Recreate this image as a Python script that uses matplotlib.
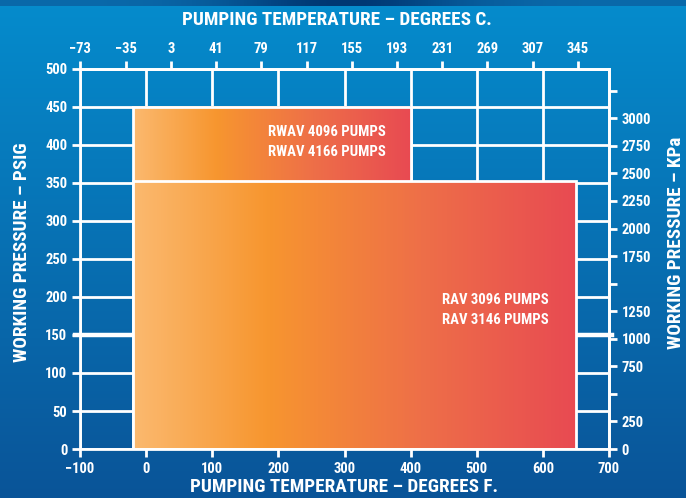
import numpy as np
import matplotlib
matplotlib.use("Agg")
import matplotlib.pyplot as plt
from matplotlib.colors import LinearSegmentedColormap
from matplotlib.patches import Rectangle

plt.rcParams['font.family'] = ['Roboto Condensed', 'DejaVu Sans']
plt.rcParams['font.weight'] = 'bold'

# axis scales
f_ticks = [-100, 0, 100, 200, 300, 400, 500, 600, 700]
psig_ticks = [0, 50, 100, 150, 200, 250, 300, 350, 400, 450, 500]
c_ticks = [-73, -35, 3, 41, 79, 117, 155, 193, 231, 269, 307, 345]
kpa_ticks = [0, 250, 500, 750, 1000, 1250, 1500, 1750, 2000, 2250, 2500, 2750, 3000, 3250]
kpa_labels = ["0", "250", "", "750", "1000", "1250", "", "1750", "2000", "2250",
              "2500", "2750", "3000", ""]

# pump operating envelopes
pump_labels = ["RWAV 4096 PUMPS\nRWAV 4166 PUMPS", "RAV 3096 PUMPS\nRAV 3146 PUMPS"]
temp_min = [-20, -20]
temp_max = [400, 650]
press_max = [450, 352]
label_x = [362, 608]
label_y = [404, 183]

W, H = 686, 498
fig = plt.figure(figsize=(W / 100, H / 100), dpi=100)

# blue background: vertical fade with a thin darker strip on top
bg = fig.add_axes([0, 0, 1, 1], zorder=-5)
ny, nx = 498, 200
rows = np.linspace(0, 1, ny)[:, None]
mid = np.array([5, 140, 205]) / 255
bot = np.array([10, 84, 152]) / 255
img = mid + (bot - mid) * rows[..., None] * np.ones((1, nx, 1))
xs = np.linspace(-1, 1, nx)
strip = np.array([10, 105, 170]) / 255 + (np.array([0, 55, 115]) / 255 - np.array([10, 105, 170]) / 255) * np.exp(-(xs / 0.35) ** 2)[:, None]
img[:7] = strip[None, :, :]
bg.imshow(np.clip(img, 0, 1), aspect='auto', extent=[0, 1, 0, 1])
bg.set_axis_off()

ax = fig.add_axes([80 / W, 1 - 449 / H, 529 / W, 380 / H])
ax.set_facecolor('none')

# grid
for x in f_ticks:
    ax.axvline(x, color='white', lw=2, zorder=1)
for y in psig_ticks:
    ax.axhline(y, color='white', lw=2, zorder=1)
ax.plot([-108, 704], [150, 150], color='white', lw=3.2, zorder=1, clip_on=False)

cmap = LinearSegmentedColormap.from_list('pump', [(0, '#fbb96f'), (0.3, '#f7962f'),
                                                   (0.65, '#ee6f48'), (1, '#e84a52')])
grad = np.linspace(0, 1, 256)[None, :]
press_min = [0, 0]
for i in range(len(pump_labels)):
    ax.imshow(grad, cmap=cmap, vmin=0, vmax=1, aspect='auto',
              extent=[temp_min[i], temp_max[i], press_min[i], press_max[i]], zorder=2 + i)
    ax.add_patch(Rectangle((temp_min[i], press_min[i]), temp_max[i] - temp_min[i],
                           press_max[i] - press_min[i], fill=False, ec='white', lw=2,
                           zorder=2.5 + i))
    ax.text(label_x[i], label_y[i], pump_labels[i], color='white', fontsize=10.6,
            ha='right', va='center', linespacing=1.5, zorder=5)

ax.set_xlim(-100, 700)
ax.set_ylim(0, 500)

for s in ax.spines.values():
    s.set_color('white')
    s.set_linewidth(2)
    s.set_zorder(6)

ax.set_xticks(f_ticks)
ax.set_yticks(psig_ticks)
ax.tick_params(colors='white', width=2, length=6, labelsize=10.5, pad=3)

f2c = lambda f: (np.asarray(f) - 32) * 5 / 9
c2f = lambda c: np.asarray(c) * 9 / 5 + 32
sx = ax.secondary_xaxis('top', functions=(f2c, c2f))
sx.set_xticks(c_ticks)
sx.tick_params(colors='white', width=2, length=6, labelsize=10.5, pad=3)
sx.spines['top'].set_color('white')
sx.spines['top'].set_linewidth(2)

p2k = lambda p: np.asarray(p) * 6.8948
k2p = lambda k: np.asarray(k) / 6.8948
sy = ax.secondary_yaxis('right', functions=(p2k, k2p))
sy.set_yticks(kpa_ticks)
sy.set_yticklabels(kpa_labels)
sy.tick_params(colors='white', width=2, length=6, labelsize=10.5, pad=3)
sy.spines['right'].set_color('white')
sy.spines['right'].set_linewidth(2)

# axis titles
fig.text(337 / W, 1 - 20 / H, "PUMPING TEMPERATURE – DEGREES C.", color='white',
         fontsize=13.8, ha='center', va='center')
fig.text(344 / W, 1 - 487 / H, "PUMPING TEMPERATURE – DEGREES F.", color='white',
         fontsize=13.8, ha='center', va='center')
fig.text(22 / W, 1 - 252 / H, "WORKING PRESSURE – PSIG", color='white',
         fontsize=13.8, ha='center', va='center', rotation=90)
fig.text(676 / W, 1 - 243 / H, "WORKING PRESSURE – KPa", color='white',
         fontsize=13.8, ha='center', va='center', rotation=90)

fig.savefig("out.png", dpi=100)
